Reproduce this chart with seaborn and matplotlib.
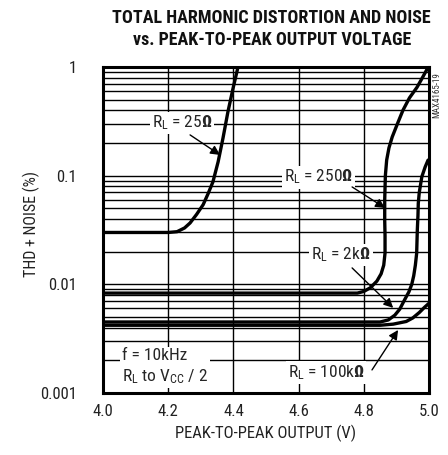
import numpy as np
import pandas as pd
import matplotlib
matplotlib.use("Agg")
import matplotlib.pyplot as plt
import seaborn as sns
from matplotlib import font_manager
from matplotlib.ticker import LogLocator, NullFormatter

# curves (x = Vp-p, y = THD+N in %)
rl25_x = [4.00, 4.10, 4.20, 4.227, 4.25, 4.267, 4.287, 4.307, 4.322, 4.337, 4.353, 4.368, 4.383, 4.399, 4.414]
rl25_y = [0.030, 0.030, 0.030, 0.0305, 0.033, 0.0367, 0.044, 0.054, 0.068, 0.0875, 0.134, 0.222, 0.386, 0.64, 1.0]

rl250_x = [4.00, 4.50, 4.78, 4.80, 4.82, 4.84, 4.853, 4.861, 4.865, 4.865, 4.864, 4.864, 4.866, 4.870, 4.877,
           4.887, 4.903, 4.92, 4.94, 4.963, 4.98, 4.996]
rl250_y = [0.0083, 0.0083, 0.0083, 0.0086, 0.0093, 0.0107, 0.0125, 0.015, 0.0194, 0.028, 0.039, 0.06, 0.10, 0.139, 0.18,
           0.227, 0.30, 0.40, 0.52, 0.65, 0.80, 0.98]

rl2k_x = [4.00, 4.50, 4.85, 4.875, 4.895, 4.91, 4.925, 4.938, 4.947, 4.953, 4.958, 4.962, 4.964, 4.966, 4.967,
          4.970, 4.978, 4.988, 4.997]
rl2k_y = [0.0045, 0.0045, 0.0045, 0.0047, 0.0052, 0.0059, 0.0072, 0.0085, 0.0100, 0.012, 0.015, 0.0193, 0.0316, 0.043,
          0.0557, 0.07, 0.098, 0.12, 0.139]

rl100k_x = [4.00, 4.50, 4.85, 4.89, 4.93, 4.95, 4.97, 4.985, 5.0]
rl100k_y = [0.0042, 0.0042, 0.0042, 0.0043, 0.00455, 0.0049, 0.0055, 0.0061, 0.0067]

x_ticks = [4.0, 4.2, 4.4, 4.6, 4.8, 5.0]
x_ticklabels = ["4.0", "4.2", "4.4", "4.6", "4.8", "5.0"]
y_ticks = [0.001, 0.01, 0.1, 1]
y_ticklabels = ["0.001", "0.01", "0.1", "1"]

sns.set_style("white")
installed = {f.name for f in font_manager.fontManager.ttflist}
narrow = next((n for n in ["Liberation Sans Narrow", "DejaVu Sans Condensed", "Roboto Condensed"] if n in installed),
              "Liberation Sans")
plt.rcParams["font.family"] = [narrow, "DejaVu Sans"]
plt.rcParams["mathtext.fontset"] = "custom"
plt.rcParams["mathtext.rm"] = narrow
plt.rcParams["mathtext.bf"] = narrow + ":bold"
plt.rcParams["mathtext.it"] = narrow + ":italic"

fig = plt.figure(figsize=(4.48, 4.55), dpi=100)
ax = fig.add_axes([0.23, 0.1363, 0.7277, 0.7165])
ax.set_facecolor("white")

curves = [(rl25_x, rl25_y), (rl250_x, rl250_y), (rl2k_x, rl2k_y), (rl100k_x, rl100k_y)]
for xs, ys in curves:
    sns.lineplot(x=xs, y=ys, ax=ax, sort=False, estimator=None, color="black", lw=2.4, zorder=4)

ax.set_yscale("log")
ax.set_xlim(4.0, 5.0)
ax.set_ylim(0.001, 1)
ax.set_xticks(x_ticks)
ax.set_xticklabels(x_ticklabels)
ax.set_yticks(y_ticks)
ax.set_yticklabels(y_ticklabels)
ax.yaxis.set_minor_locator(LogLocator(base=10, subs=np.arange(2, 10)))
ax.yaxis.set_minor_formatter(NullFormatter())
ax.grid(which="both", color="black", lw=1.0, zorder=1)
ax.set_axisbelow(True)
ax.tick_params(axis="both", which="both", length=0, labelsize=12, colors="#222222")
ax.tick_params(axis="y", pad=19)
ax.tick_params(axis="x", pad=8)
for s in ax.spines.values():
    s.set_linewidth(2.2)
    s.set_color("black")
    s.set_zorder(5)

ax.set_xlabel("PEAK-TO-PEAK OUTPUT (V)", fontsize=12, color="#222222", labelpad=4)
ax.set_ylabel("")
fig.text(31 / 448, 1 - 224 / 455, "THD + NOISE (%)", rotation=90, ha="center", va="center",
         fontsize=11.5, color="#222222")

fig.text(271 / 448, 1 - 18 / 455, "TOTAL HARMONIC DISTORTION AND NOISE", ha="center", va="center",
         fontsize=13, fontweight="bold", color="#111111")
fig.text(272 / 448, 1 - 40 / 455, "vs. PEAK-TO-PEAK OUTPUT VOLTAGE", ha="center", va="center",
         fontsize=13, fontweight="bold", color="#111111")
fig.text(437 / 448, 1 - 95 / 455, "MAX4165-19", rotation=90, ha="center", va="center",
         fontsize=6.5, color="#333333")

box = dict(facecolor="white", edgecolor="none", pad=1.5)
arrow = dict(arrowstyle="-|>", color="black", lw=1.0, mutation_scale=14, shrinkA=0, shrinkB=0)
fs = 12.5

ax.text(4.242, 0.305, r"R$_\mathregular{L}$ = 25$\mathbf{\Omega}$", ha="center", va="center",
        fontsize=fs, bbox=box, zorder=6)
ax.annotate("", xy=(4.359, 0.155), xytext=(4.267, 0.237), arrowprops=arrow, zorder=6)

ax.text(4.66, 0.097, r"R$_\mathregular{L}$ = 250$\mathbf{\Omega}$", ha="center", va="center",
        fontsize=fs, bbox=box, zorder=6)
ax.annotate("", xy=(4.865, 0.0504), xytext=(4.764, 0.0787), arrowprops=arrow, zorder=6)

ax.text(4.73, 0.0186, r"R$_\mathregular{L}$ = 2k$\mathbf{\Omega}$", ha="center", va="center",
        fontsize=fs, bbox=box, zorder=6)
ax.annotate("", xy=(4.89, 0.00607), xytext=(4.764, 0.01415), arrowprops=arrow, zorder=6)

ax.text(4.684, 0.00153, r"R$_\mathregular{L}$ = 100k$\mathbf{\Omega}$", ha="center", va="center",
        fontsize=fs, bbox=box, zorder=6)
ax.annotate("", xy=(4.905, 0.0038), xytext=(4.825, 0.00163), arrowprops=arrow, zorder=6)

ax.text(4.058, 0.00175, "f = 10kHz\n" + r"R$_\mathregular{L}$ to V$_\mathregular{CC}$ / 2", ha="left", va="center",
        fontsize=fs, linespacing=1.3, bbox=box, zorder=6)

fig.savefig("out.png", dpi=100, facecolor="white")
